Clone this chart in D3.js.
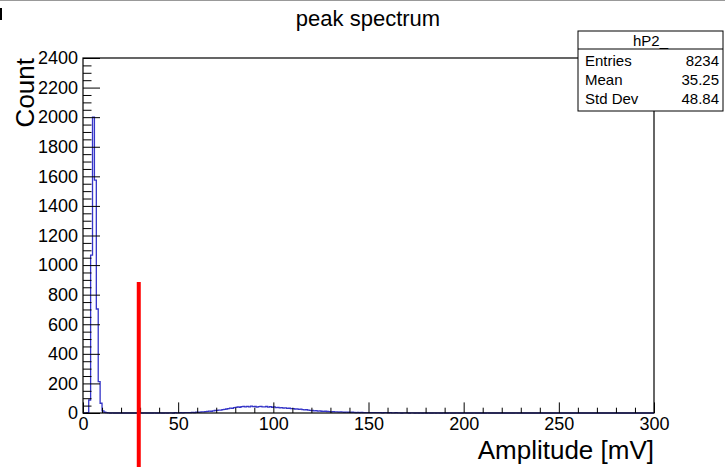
<!DOCTYPE html>
<html>
<head>
<meta charset="utf-8">
<script src="https://cdn.jsdelivr.net/npm/d3@7"></script>
<style>
  body { margin: 0; background: #fff; }
  svg { display: block; font-family: "Liberation Sans", Arial, Helvetica, sans-serif; }
</style>
</head>
<body>
<div id="chart"></div>
<script>
// histogram hP2_ : 300 bins of 1 mV from 0 to 300 mV
let binLo = 0
let binHi = 300
let counts = [
    0, 0, 3, 88, 1068, 2000, 1575, 703, 212, 66,
    15, 5, 2, 1, 0, 1, 0, 0, 0, 0,
    0, 0, 0, 0, 0, 0, 0, 0, 0, 0,
    0, 0, 1, 0, 0, 0, 0, 1, 0, 0,
    1, 0, 0, 1, 0, 1, 1, 0, 2, 1,
    1, 2, 1, 2, 3, 2, 3, 4, 3, 5,
    5, 6, 8, 7, 9, 11, 13, 12, 15, 17,
    18, 20, 19, 23, 24, 27, 29, 33, 31, 36,
    38, 41, 39, 43, 44, 42, 45, 41, 46, 43,
    44, 40, 43, 45, 41, 42, 44, 40, 43, 39,
    41, 37, 38, 35, 36, 33, 34, 31, 32, 29,
    30, 27, 28, 25, 26, 23, 21, 22, 19, 18,
    17, 15, 16, 13, 14, 12, 11, 12, 10, 9,
    8, 9, 7, 8, 6, 7, 6, 5, 6, 5,
    4, 5, 4, 3, 4, 3, 4, 3, 2, 3,
    3, 2, 3, 2, 2, 3, 2, 1, 2, 2,
    1, 2, 1, 1, 2, 1, 1, 0, 1, 1,
    1, 0, 1, 1, 0, 1, 0, 1, 0, 1,
    0, 1, 0, 0, 1, 0, 1, 0, 0, 1,
    0, 0, 1, 0, 0, 0, 1, 0, 0, 0,
    1, 0, 0, 0, 0, 1, 0, 0, 0, 0,
    0, 0, 1, 0, 0, 0, 0, 0, 0, 0,
    0, 0, 0, 0, 0, 0, 0, 1, 0, 0,
    0, 0, 0, 0, 0, 0, 0, 0, 0, 0,
    0, 0, 0, 0, 0, 0, 0, 0, 0, 0,
    0, 0, 0, 0, 0, 0, 0, 0, 0, 0,
    0, 0, 0, 0, 0, 0, 0, 0, 0, 0,
    0, 0, 0, 0, 0, 0, 0, 0, 0, 0,
    0, 0, 0, 0, 0, 0, 0, 0, 0, 0,
    0, 0, 0, 0, 0, 0, 0, 0, 0, 0
]

let xMajor = [0, 50, 100, 150, 200, 250, 300]
let yMajor = [0, 200, 400, 600, 800, 1000, 1200, 1400, 1600, 1800, 2000, 2200, 2400]

let statLabels = ["Entries", "Mean", "Std Dev"]
let statValues = ["8234", "35.25", "48.84"]

// vertical cut line (red)
let cutX = 29.3
let cutY = [-370, 886]

let width = 725
let height = 467
let margin = {top: 58, right: 71, bottom: 54, left: 83}
let plotW = width - margin.left - margin.right
let plotH = height - margin.top - margin.bottom

let svg = d3.select("#chart").append("svg")
    .attr("width", width)
    .attr("height", height)

svg.append("rect").attr("width", width).attr("height", height).attr("fill", "#fff")

// screenshot border bits
svg.append("line").attr("x1", 0).attr("x2", width).attr("y1", 0.5).attr("y2", 0.5)
    .attr("stroke", "#999").attr("stroke-width", 1)
svg.append("line").attr("x1", 1).attr("x2", 1).attr("y1", 8).attr("y2", 20)
    .attr("stroke", "#000").attr("stroke-width", 2)

let g = svg.append("g")
    .attr("transform", `translate(${margin.left}, ${margin.top})`)

let x = d3.scaleLinear().domain([binLo, binHi]).range([0, plotW])
let y = d3.scaleLinear().domain([0, 2400]).range([plotH, 0])

// histogram outline as steps
let pts = [[binLo, 0]]
let bw = (binHi - binLo) / counts.length
counts.forEach(function (c, i) {
    pts.push([binLo + i * bw, c])
    pts.push([binLo + (i + 1) * bw, c])
})
pts.push([binHi, 0])

let line = d3.line()
    .x(d => x(d[0]))
    .y(d => y(d[1]))

g.append("path")
    .datum(pts)
    .attr("d", line)
    .attr("fill", "none")
    .attr("stroke", "#3535c8")
    .attr("stroke-width", 1.3)

// frame
g.append("rect")
    .attr("x", 0).attr("y", 0)
    .attr("width", plotW).attr("height", plotH)
    .attr("fill", "none")
    .attr("stroke", "#000")
    .attr("stroke-width", 1.2)

// axes - ticks drawn inside the frame like ROOT
let xMinor = d3.range(0, 301, 10).filter(v => v % 50 !== 0)
let yMinor = d3.range(0, 2401, 50).filter(v => v % 200 !== 0)
let fmt = d3.format("d")

g.append("g").attr("transform", `translate(0, ${plotH})`)
    .call(d3.axisBottom(x).tickValues(xMajor).tickFormat(fmt).tickSizeInner(-10.6).tickSizeOuter(0).tickPadding(4.5))
g.append("g").attr("transform", `translate(0, ${plotH})`)
    .call(d3.axisBottom(x).tickValues(xMinor).tickSizeInner(-5.3).tickSizeOuter(0).tickFormat(""))

g.append("g")
    .call(d3.axisLeft(y).tickValues(yMajor).tickFormat(fmt).tickSizeInner(-17).tickSizeOuter(0).tickPadding(5))
g.append("g")
    .call(d3.axisLeft(y).tickValues(yMinor).tickSizeInner(-8.5).tickSizeOuter(0).tickFormat(""))

g.selectAll(".domain").remove()
g.selectAll(".tick line").attr("stroke", "#000").attr("stroke-width", 1)
g.selectAll(".tick text")
    .attr("font-family", "'Liberation Sans', Arial, sans-serif")
    .attr("font-size", 18)
    .attr("fill", "#000")

// cut line
g.append("line")
    .attr("x1", x(cutX)).attr("x2", x(cutX))
    .attr("y1", y(cutY[0])).attr("y2", y(cutY[1]))
    .attr("stroke", "#ff0000")
    .attr("stroke-width", 4)

// titles
svg.append("text")
    .attr("x", 368).attr("y", 26)
    .attr("text-anchor", "middle")
    .attr("font-size", 22)
    .text("peak spectrum")

svg.append("text")
    .attr("x", margin.left + plotW).attr("y", 459)
    .attr("text-anchor", "end")
    .attr("font-size", 26)
    .text("Amplitude [mV]")

svg.append("text")
    .attr("transform", `translate(34, ${margin.top}) rotate(-90)`)
    .attr("text-anchor", "end")
    .attr("font-size", 26)
    .text("Count")

// stats box
let box = {x: 578, y: 31, w: 145, h: 80, head: 18}
let sb = svg.append("g")
sb.append("rect")
    .attr("x", box.x).attr("y", box.y).attr("width", box.w).attr("height", box.h)
    .attr("fill", "#fff").attr("stroke", "#000").attr("stroke-width", 1)
sb.append("line")
    .attr("x1", box.x).attr("x2", box.x + box.w)
    .attr("y1", box.y + box.head).attr("y2", box.y + box.head)
    .attr("stroke", "#000").attr("stroke-width", 1)
sb.append("text")
    .attr("x", box.x + box.w / 2).attr("y", box.y + 14.5)
    .attr("text-anchor", "middle").attr("font-size", 15)
    .text("hP2_")
statLabels.forEach(function (lab, i) {
    let yy = box.y + box.head + 17 + i * 19
    sb.append("text").attr("x", box.x + 7).attr("y", yy)
        .attr("font-size", 15).text(lab)
    sb.append("text").attr("x", box.x + box.w - 4).attr("y", yy)
        .attr("text-anchor", "end").attr("font-size", 15).text(statValues[i])
})
</script>
</body>
</html>
